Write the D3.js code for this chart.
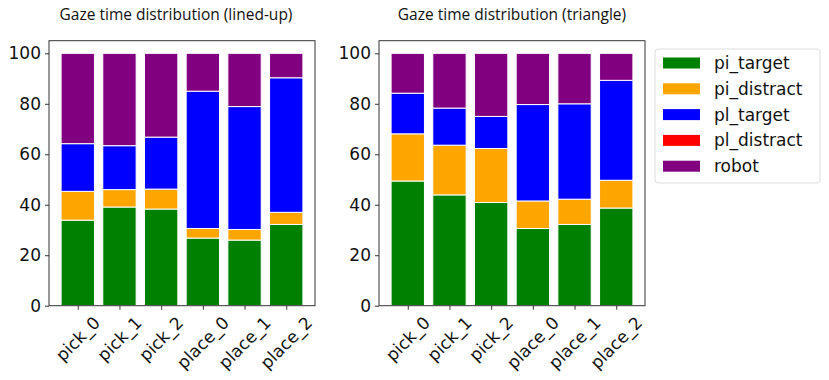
<!DOCTYPE html>
<html lang="en">
<head>
<meta charset="UTF-8">
<script src="https://d3js.org/d3.v7.min.js"></script>
<title>Gaze time distribution</title>
<style>
  body { margin: 0; background: #fff; }
  svg text { font-family: "DejaVu Sans", sans-serif; fill: #111; }
  .title { font-family: "Open Sans", sans-serif; font-size: 15.5px; }
</style>
</head>
<body>
<div id="chart"></div>
<script>
// categories and series
var categories = ["pick_0", "pick_1", "pick_2", "place_0", "place_1", "place_2"];
var seriesNames = ["pi_target", "pi_distract", "pl_target", "pl_distract", "robot"];
var colors = ["#008000", "#ffa500", "#0000ff", "#ff0000", "#800080"];
var yTicks = [0, 20, 40, 60, 80, 100];

// lined-up layout (percent of gaze time)
var linedPiTarget   = [33.9, 39.1, 38.3, 26.8, 26.0, 32.2];
var linedPiDistract = [11.4,  6.9,  7.9,  3.8,  4.2,  4.8];
var linedPlTarget   = [18.9, 17.4, 20.6, 54.4, 48.7, 53.3];
var linedPlDistract = [ 0.0,  0.0,  0.0,  0.0,  0.0,  0.0];
var linedRobot      = [35.8, 36.6, 33.2, 15.0, 21.1,  9.7];

// triangle layout
var triPiTarget   = [49.4, 43.9, 40.9, 30.6, 32.2, 38.7];
var triPiDistract = [18.7, 19.7, 21.4, 10.9, 10.0, 11.0];
var triPlTarget   = [16.1, 14.7, 12.7, 38.2, 37.8, 39.6];
var triPlDistract = [ 0.0,  0.0,  0.0,  0.0,  0.0,  0.0];
var triRobot      = [15.8, 21.7, 25.0, 20.3, 20.0, 10.7];

var panels = [
  { title: "Gaze time distribution (lined-up)", left: 49,
    series: [linedPiTarget, linedPiDistract, linedPlTarget, linedPlDistract, linedRobot] },
  { title: "Gaze time distribution (triangle)", left: 379,
    series: [triPiTarget, triPiDistract, triPlTarget, triPlDistract, triRobot] }
];

var W = 829, H = 380;
var axW = 266, axTop = 40.7, axBottom = 305.7;

var svg = d3.select("#chart").append("svg")
  .attr("width", W).attr("height", H);
svg.append("rect").attr("width", W).attr("height", H).attr("fill", "#fff");

panels.forEach(function (p) {
  var g = svg.append("g").attr("transform", "translate(" + p.left + ",0)");

  // matplotlib-like x range: bars from -0.4..5.4 plus 5% margin
  var x = d3.scaleLinear().domain([-0.69, 5.69]).range([0, axW]);
  var y = d3.scaleLinear().domain([0, 105]).range([axBottom, axTop]);

  var rows = categories.map(function (c, i) {
    var r = { cat: c };
    seriesNames.forEach(function (s, k) { r[s] = p.series[k][i]; });
    return r;
  });
  var stacked = d3.stack().keys(seriesNames)(rows);

  stacked.forEach(function (layer, k) {
    g.append("g").selectAll("rect")
      .data(layer)
      .enter()
      .append("rect")
      .attr("x", function (d, i) { return x(i - 0.4); })
      .attr("width", function () { return x(0.4) - x(-0.4); })
      .attr("y", function (d) { return y(d[1]); })
      .attr("height", function (d) { return Math.max(0, y(d[0]) - y(d[1])); })
      .attr("fill", colors[k])
      .attr("stroke", "#fff")
      .attr("stroke-width", function (d) { return d[1] - d[0] > 0 ? 1 : 0; });
  });

  // frame
  g.append("rect")
    .attr("x", 0).attr("y", axTop)
    .attr("width", axW).attr("height", axBottom - axTop)
    .attr("fill", "none").attr("stroke", "#333").attr("stroke-width", 1);

  // y axis
  var yAxis = d3.axisLeft(y).tickValues(yTicks).tickSize(4).tickPadding(4);
  var ya = g.append("g").call(yAxis);
  ya.select(".domain").remove();
  ya.selectAll("line").attr("stroke", "#333");
  ya.selectAll("text").attr("font-size", 17).attr("font-family", "DejaVu Sans").attr("fill", "#111");

  // x axis
  var xa = g.append("g").attr("transform", "translate(0," + axBottom + ")")
    .call(d3.axisBottom(x).tickValues(d3.range(categories.length)).tickSize(4).tickFormat(""));
  xa.select(".domain").remove();
  xa.selectAll("line").attr("stroke", "#333");

  // rotated category labels, bbox centred under tick
  categories.forEach(function (c, i) {
    var t = g.append("text")
      .attr("font-size", 17)
      .attr("text-anchor", "middle")
      .attr("dominant-baseline", "central")
      .text(c);
    var w = t.node().getComputedTextLength();
    var h = 17;
    var half = (w + h) / (2 * Math.SQRT2);
    t.attr("transform", "translate(" + x(i) + "," + (axBottom + 8 + half) + ") rotate(-45)");
  });

  g.append("text").attr("class", "title")
    .attr("x", axW / 2 - (p.left < 100 ? 6 : 0)).attr("y", 20)
    .attr("text-anchor", "middle")
    .text(p.title);
});

// legend
var lg = svg.append("g").attr("transform", "translate(655,49)");
lg.append("rect").attr("width", 165).attr("height", 134).attr("rx", 3)
  .attr("fill", "#fff").attr("stroke", "#ddd");
seriesNames.forEach(function (s, k) {
  var row = lg.append("g").attr("transform", "translate(0," + (14 + k * 25.8) + ")");
  row.append("rect").attr("x", 8).attr("y", -5.5).attr("width", 37).attr("height", 11)
    .attr("fill", colors[k]);
  row.append("text").attr("x", 59).attr("y", 0).attr("dominant-baseline", "central")
    .attr("font-size", 17).text(s);
});
</script>
</body>
</html>
